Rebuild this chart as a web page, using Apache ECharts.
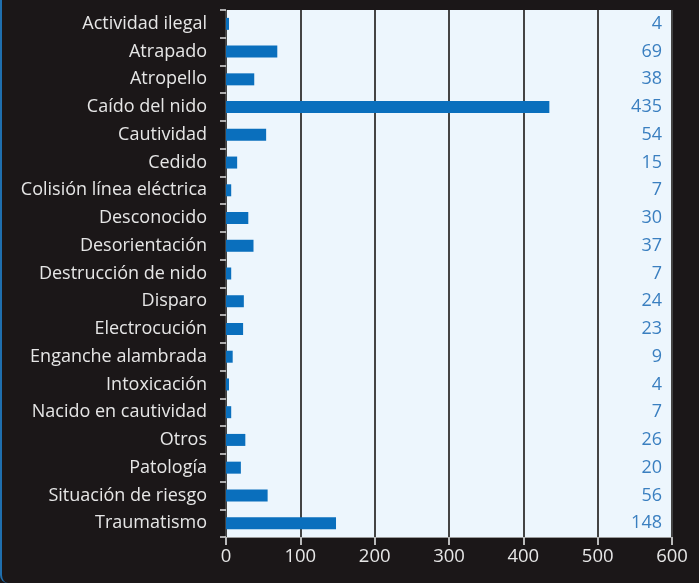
<!DOCTYPE html>
<html><head><meta charset="utf-8">
<script src="https://cdn.jsdelivr.net/npm/echarts@6/dist/echarts.min.js"></script>
<style>
html,body{margin:0;padding:0;background:#1b1718;}
#wrap{position:absolute;left:0;top:0;width:699px;height:583px;background:#1b1718;border-left:2px solid #1f6fae;box-sizing:border-box;border-bottom-left-radius:8px;}
#c{width:697px;height:583px;}
</style></head>
<body><div id="wrap"><div id="c"></div></div>
<script>
const categories = ["Actividad ilegal","Atrapado","Atropello","Caído del nido","Cautividad","Cedido","Colisión línea eléctrica","Desconocido","Desorientación","Destrucción de nido","Disparo","Electrocución","Enganche alambrada","Intoxicación","Nacido en cautividad","Otros","Patología","Situación de riesgo","Traumatismo"];
const values = [4,69,38,435,54,15,7,30,37,7,24,23,9,4,7,26,20,56,148];
const xTicks = [0,100,200,300,400,500,600];

const FONT = '"Open Sans", Lato, sans-serif';
const chart = echarts.init(document.getElementById('c'));
chart.setOption({
  backgroundColor: 'transparent',
  animation: false,
  grid: {left: 224, right: 27, top: 10, bottom: 46, show: true, backgroundColor: '#edf6fd', borderWidth: 0},
  xAxis: {
    type: 'value', min: xTicks[0], max: xTicks[xTicks.length-1], interval: 100,
    axisLine: {show: true, lineStyle: {color: '#9a9a9a', width: 1}},
    axisTick: {show: true, length: 8, lineStyle: {color: '#bbbbbb', width: 2}},
    axisLabel: {color: '#e6e6e6', fontSize: 18.5, fontFamily: FONT, margin: 10},
    splitLine: {show: true, lineStyle: {color: '#444444', width: 2}}
  },
  yAxis: [{
    type: 'category', data: categories, inverse: true,
    axisLine: {show: false},
    axisTick: {show: true, length: 6, lineStyle: {color: '#dddddd', width: 1.5}},
    axisLabel: {color: '#e6e6e6', fontSize: 18, fontFamily: FONT, margin: 19},
    splitLine: {show: false}
  },{
    type: 'category', data: values.map(String), inverse: true, position: 'right',
    axisLine: {show: false}, axisTick: {show: false},
    axisLabel: {inside: true, color: '#3a7fc0', fontSize: 18, fontFamily: FONT, margin: 10, align: 'right'},
    splitLine: {show: false}
  }],
  series: [{
    type: 'bar', data: values, barWidth: 12, yAxisIndex: 0,
    itemStyle: {color: '#0a6fbd'}
  }]
});
</script></body></html>
